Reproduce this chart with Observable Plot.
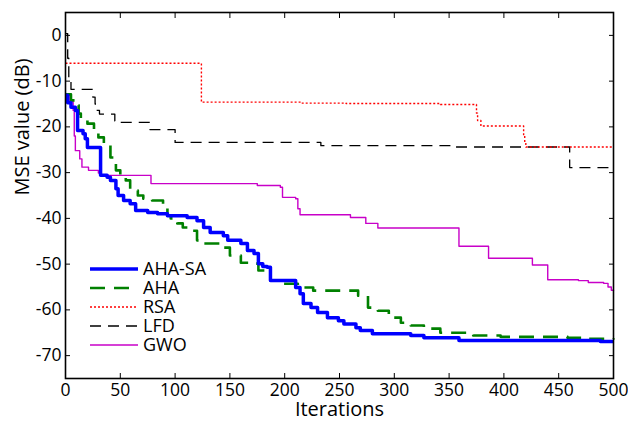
<!DOCTYPE html>
<html>
<head>
<meta charset="utf-8">
<script src="https://cdn.jsdelivr.net/npm/d3@7"></script>
<script src="https://cdn.jsdelivr.net/npm/@observablehq/plot@0.6"></script>
<style>
  html, body { margin: 0; padding: 0; background: #fff; }
  #chart svg { display: block; }
</style>
</head>
<body>
<div id="chart"></div>
<script>
// Series names and styles
const seriesNames = ["AHA-SA", "AHA", "RSA", "LFD", "GWO"];

// Breakpoints (iteration, MSE dB); drawn as step curves
const ahaSaIter = [0, 2, 5, 9, 11, 16, 18, 20, 32, 38, 41, 46, 48, 53, 59, 64, 75, 84, 93, 111, 120, 126, 132, 144, 148, 160, 166, 172, 176, 180, 184, 187, 203, 210, 214, 217, 224, 230, 239, 249, 254, 265, 269, 280, 315, 327, 359, 488, 500];
const ahaSaVal  = [-13.1, -14.7, -15.7, -16.4, -20.8, -21.5, -22.6, -24.5, -30.6, -31, -31.7, -33.5, -35, -36.1, -36.8, -38.3, -38.7, -39, -39.4, -39.8, -40.5, -42, -43.1, -43.8, -44.8, -45.5, -47, -47.7, -49.9, -50.5, -50.7, -53.6, -53.6, -55.1, -56.5, -58.6, -59.5, -60.6, -61.7, -62.4, -63.1, -63.9, -64.5, -65.2, -65.6, -66.1, -66.7, -66.9, -66.9];

const ahaIter = [0, 5, 9, 12, 14, 20, 26, 30, 35, 41, 46, 50, 55, 59, 66, 71, 79, 89, 93, 96, 102, 107, 112, 120, 126, 141, 150, 160, 172, 176, 187, 199, 212, 226, 267, 276, 285, 295, 306, 315, 327, 342, 367, 372, 397, 458, 473, 500];
const ahaVal  = [-12.9, -14.2, -15.3, -17.1, -18.6, -19.3, -21.4, -22.3, -23.6, -26.7, -29.5, -31, -31.7, -33.9, -35, -35.7, -36.1, -37.6, -39.4, -40, -41.1, -42, -42.7, -44.8, -45.5, -46.4, -48.1, -49.7, -49.9, -51.4, -53.6, -54.3, -55.1, -55.8, -56.9, -59.5, -60.2, -61.7, -62.8, -63.4, -64.1, -65, -65.2, -65.6, -65.9, -66.1, -66.3, -66.2];

const rsaIter = [0, 124, 215, 256, 342, 375, 376, 379, 418, 419, 420, 500];
const rsaVal  = [-6.1, -14.6, -14.8, -14.9, -15.1, -17, -18.6, -19.8, -22, -23.5, -24.4, -24.4];

const lfdIter = [0, 2, 3, 5, 25, 27, 29, 31, 45, 50, 77, 100, 233, 354, 460, 500];
const lfdVal  = [0.4, -5, -10, -11.8, -13.5, -15, -16.4, -17.2, -18.7, -19, -20.6, -23.4, -24.1, -24.4, -28.9, -28.9];

const gwoIter = [0, 4, 7, 8, 9, 13, 15, 21, 30, 32, 78, 175, 196, 198, 210, 212, 214, 260, 274, 285, 359, 386, 426, 440, 468, 477, 491, 495, 498, 500];
const gwoVal  = [-13.1, -14.5, -16.4, -22, -25.2, -27, -28.8, -29.5, -30.1, -30.6, -32.4, -32.8, -33.2, -35.4, -35.7, -37.9, -39.2, -39.8, -41.1, -42.1, -46.1, -48.7, -50.2, -53.4, -53.6, -54, -54.2, -55, -55.7, -55.8];

// Tick values
const xTicks = [0, 50, 100, 150, 200, 250, 300, 350, 400, 450, 500];
const yTicks = [0, -10, -20, -30, -40, -50, -60, -70];

const iterArrays = [ahaSaIter, ahaIter, rsaIter, lfdIter, gwoIter];
const valArrays  = [ahaSaVal, ahaVal, rsaVal, lfdVal, gwoVal];

const styles = {
  "AHA-SA": {stroke: "#0000ff", strokeWidth: 3.5, dash: null},
  "AHA":    {stroke: "#008000", strokeWidth: 2.6, dash: "15,9"},
  "RSA":    {stroke: "#ff0000", strokeWidth: 1.4, dash: "2,2"},
  "LFD":    {stroke: "#000000", strokeWidth: 1.3, dash: "11,7"},
  "GWO":    {stroke: "#c800c8", strokeWidth: 1.4, dash: null}
};

const series = seriesNames.map((name, i) => ({
  name,
  points: iterArrays[i].map((x, j) => ({x, y: valArrays[i][j]}))
}));

const font = "'Open Sans', 'DejaVu Sans', sans-serif";
const fmt = d => `${d}`;

// draw order: GWO, LFD, RSA, AHA, AHA-SA on top
const drawOrder = ["GWO", "LFD", "RSA", "AHA", "AHA-SA"];
const lineMarks = drawOrder.map(name => {
  const s = series.find(d => d.name === name);
  const st = styles[name];
  return Plot.line(s.points, {
    x: "x", y: "y", curve: "step-after",
    stroke: st.stroke, strokeWidth: st.strokeWidth,
    strokeDasharray: st.dash, strokeLinejoin: "round", strokeLinecap: "butt"
  });
});

const chart = Plot.plot({
  width: 628,
  height: 422,
  marginLeft: 65,
  marginRight: 15,
  marginTop: 12,
  marginBottom: 44,
  style: {fontFamily: font, fontSize: "17px", color: "#000", background: "#fff"},
  x: {domain: [0, 500]},
  y: {domain: [-75, 5]},
  marks: [
    ...lineMarks,
    Plot.frame({stroke: "#000", strokeWidth: 1.6}),
    Plot.axisX(xTicks, {anchor: "bottom", tickSize: -5, tickPadding: 10, tickFormat: fmt, label: null, fontSize: 17.5, stroke: "#000"}),
    Plot.axisX(xTicks, {anchor: "top", tickSize: -5, tickFormat: null, text: null, label: null, stroke: "#000"}),
    Plot.axisY(yTicks, {anchor: "left", tickSize: -5, tickPadding: 9, tickFormat: fmt, label: null, fontSize: 17.5, stroke: "#000"}),
    Plot.axisY(yTicks, {anchor: "right", tickSize: -5, tickFormat: null, text: null, label: null, stroke: "#000"}),
    Plot.text(["MSE value (dB)"], {frameAnchor: "left", dx: -43, rotate: -90, lineAnchor: "middle", fontSize: 20, fill: "#000"}),
    Plot.text(["Iterations"], {frameAnchor: "bottom", dy: 31, lineAnchor: "middle", fontSize: 20, fill: "#000"})
  ]
});

// Legend inside the plot, lower-left
const svg = d3.select(chart);
const lg = svg.append("g").attr("font-family", font).attr("font-size", 18).attr("text-anchor", "start");
seriesNames.forEach((name, i) => {
  const st = styles[name];
  const y = 269 + i * 19;
  lg.append("line")
    .attr("x1", 90).attr("x2", 138).attr("y1", y).attr("y2", y)
    .attr("stroke", st.stroke).attr("stroke-width", st.strokeWidth)
    .attr("stroke-dasharray", st.dash);
  lg.append("text")
    .attr("x", 143).attr("y", y).attr("dy", "0.36em")
    .attr("fill", "#000").text(name);
});

document.getElementById("chart").appendChild(chart);
</script>
</body>
</html>
